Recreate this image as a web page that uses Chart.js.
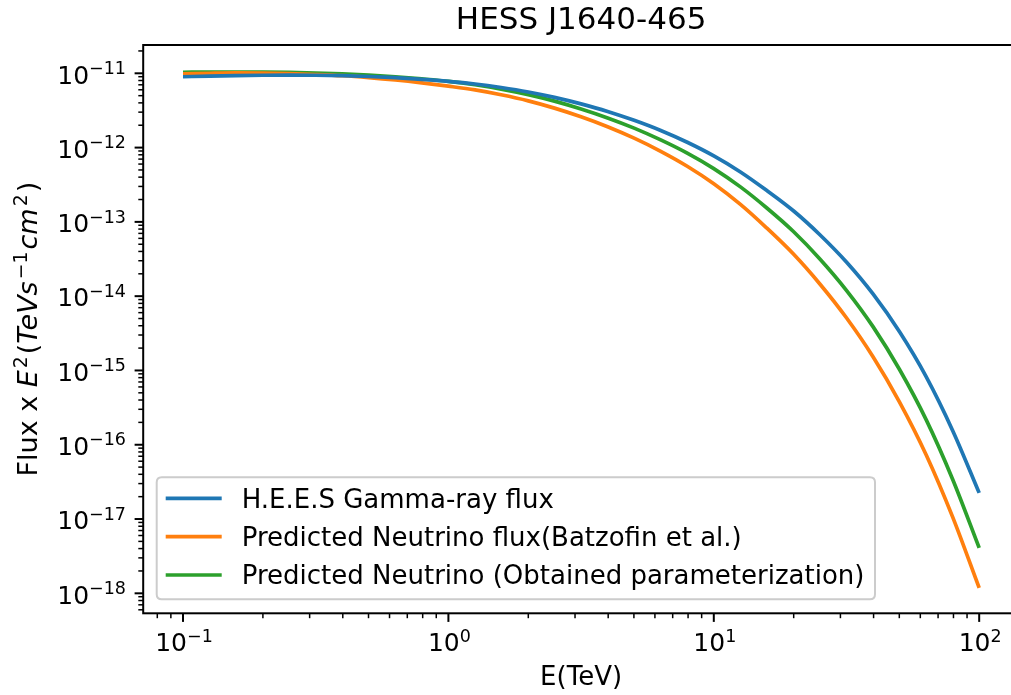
<!DOCTYPE html>
<html><head><meta charset="utf-8">
<script src="https://cdn.jsdelivr.net/npm/chart.js@4.4.1/dist/chart.umd.min.js"></script>
<style>html,body{margin:0;padding:0;overflow:hidden;background:#fff}#wrap{width:1025px;height:695px;position:relative}</style>
</head><body><div id="wrap"><canvas id="c"></canvas></div>
<script>
// ---- data ----
const energies = [0.1, 0.126, 0.158, 0.2, 0.251, 0.316, 0.398, 0.501, 0.631, 0.794, 1, 1.26, 1.58, 2, 2.51, 3.16, 3.98, 5.01, 6.31, 7.94, 10, 12.6, 15.8, 20, 25.1, 31.6, 39.8, 50.1, 63.1, 79.4, 100];
const gammaFlux = [8.99e-12, 9.18e-12, 9.33e-12, 9.42e-12, 9.46e-12, 9.42e-12, 9.29e-12, 9.06e-12, 8.73e-12, 8.30e-12, 7.80e-12, 7.18e-12, 6.44e-12, 5.61e-12, 4.75e-12, 3.88e-12, 3.07e-12, 2.33e-12, 1.70e-12, 1.18e-12, 7.73e-13, 4.70e-13, 2.66e-13, 1.40e-13, 6.71e-14, 2.88e-14, 1.07e-14, 3.31e-15, 8.26e-16, 1.56e-16, 2.25e-17];
const batzofinFlux = [9.86e-12, 1.002e-11, 1.012e-11, 1.005e-11, 9.91e-12, 9.64e-12, 9.29e-12, 8.77e-12, 8.15e-12, 7.45e-12, 6.71e-12, 5.97e-12, 5.14e-12, 4.26e-12, 3.40e-12, 2.60e-12, 1.91e-12, 1.34e-12, 8.91e-13, 5.61e-13, 3.26e-13, 1.72e-13, 8.32e-14, 3.66e-14, 1.46e-14, 5.12e-15, 1.53e-15, 3.76e-16, 7.35e-17, 1.07e-17, 1.18e-18];
const paramFlux = [1.033e-11, 1.040e-11, 1.042e-11, 1.038e-11, 1.028e-11, 1.009e-11, 9.82e-12, 9.44e-12, 8.97e-12, 8.41e-12, 7.80e-12, 7.01e-12, 6.12e-12, 5.16e-12, 4.22e-12, 3.31e-12, 2.51e-12, 1.83e-12, 1.27e-12, 8.43e-13, 5.22e-13, 2.96e-13, 1.55e-13, 7.36e-14, 3.17e-14, 1.20e-14, 3.89e-15, 1.03e-15, 2.18e-16, 3.44e-17, 4.10e-18];
const seriesLabels = ["H.E.E.S Gamma-ray flux", "Predicted Neutrino flux(Batzofin et al.)", "Predicted Neutrino (Obtained parameterization)"];
const seriesColors = ["#1f77b4", "#ff7f0e", "#2ca02c"];
const xMajorTicks = [0.1, 1, 10, 100];
const xTickExponents = ["\u22121", "0", "1", "2"];
const yMajorTicks = [1e-11, 1e-12, 1e-13, 1e-14, 1e-15, 1e-16, 1e-17, 1e-18];
const yTickExponents = ["\u221211", "\u221212", "\u221213", "\u221214", "\u221215", "\u221216", "\u221217", "\u221218"];
const titleText = "HESS J1640-465";
const xTitle = "E(TeV)";

const FONT = '"DejaVu Sans", sans-serif';
const TICK = 25, EXP = 17.5, LBL = 26, LEG = 26, TTL = 31;
const pts = arr => energies.map((e, i) => ({x: e, y: arr[i]}));

function drawPow(ctx, base, exp, x, baseY, align, bsize, esize, raise) {
  ctx.font = bsize + 'px ' + FONT; const bw = ctx.measureText(base).width;
  ctx.font = esize + 'px ' + FONT; const ew = ctx.measureText(exp).width;
  const w = bw + ew;
  const x0 = align === 'right' ? x - w : (align === 'center' ? x - w / 2 : x);
  ctx.textAlign = 'left'; ctx.textBaseline = 'alphabetic'; ctx.fillStyle = '#000';
  ctx.font = bsize + 'px ' + FONT; ctx.fillText(base, x0, baseY);
  ctx.font = esize + 'px ' + FONT; ctx.fillText(exp, x0 + bw, baseY - raise);
}

function minorValues(min, max) {
  const out = [];
  for (let n = Math.floor(Math.log10(min)); n <= Math.ceil(Math.log10(max)); n++) {
    for (let k = 2; k <= 9; k++) { const v = k * Math.pow(10, n); if (v >= min && v <= max) out.push(v); }
  }
  return out;
}

const decor = {
  id: 'decor',
  afterDraw(chart) {
    const ctx = chart.ctx, a = chart.chartArea, xs = chart.scales.x, ys = chart.scales.y;
    ctx.save();
    ctx.strokeStyle = '#000'; ctx.lineWidth = 2;
    ctx.strokeRect(a.left, a.top, a.right - a.left, a.bottom - a.top);
    const tick = (x1, y1, x2, y2, w) => { ctx.lineWidth = w; ctx.beginPath(); ctx.moveTo(x1, y1); ctx.lineTo(x2, y2); ctx.stroke(); };
    xMajorTicks.forEach(v => { const p = xs.getPixelForValue(v); tick(p, a.bottom, p, a.bottom + 8.6, 2); });
    minorValues(xs.min, xs.max).forEach(v => { const p = xs.getPixelForValue(v); tick(p, a.bottom, p, a.bottom + 4.9, 1.5); });
    yMajorTicks.forEach(v => { const p = ys.getPixelForValue(v); tick(a.left, p, a.left - 8.6, p, 2); });
    minorValues(ys.min, ys.max).forEach(v => { const p = ys.getPixelForValue(v); tick(a.left, p, a.left - 4.9, p, 1.5); });
    xMajorTicks.forEach((v, i) => { const p = xs.getPixelForValue(v); drawPow(ctx, '10', xTickExponents[i], p + 1, a.bottom + 38, 'center', TICK, EXP, 9.4); });
    yMajorTicks.forEach((v, i) => { const p = ys.getPixelForValue(v); drawPow(ctx, '10', yTickExponents[i], a.left - 17.2, p + 10.3, 'right', TICK, EXP, 9.6); });
    const cx = (a.left + a.right) / 2;
    ctx.fillStyle = '#000'; ctx.textAlign = 'center'; ctx.textBaseline = 'alphabetic';
    ctx.font = TTL + 'px ' + FONT; ctx.fillText(titleText, cx, 28.5);
    ctx.font = LBL + 'px ' + FONT; ctx.fillText(xTitle, cx, 685);
    // y title: text, style, size, raise, gap before, gap after
    const YL = 27, YS = 18.9;
    const segs = [
      ['Flux x ', '', YL, 0, 0, 0], ['E', 'italic ', YL, 0, 0, 0], ['2', '', YS, 10.4, 2, 2], ['(', '', YL, 0, 0, 0],
      ['TeVs', 'italic ', YL, 0, 0, 0], ['\u22121', '', YS, 10.4, 2, 2], ['cm', 'italic ', YL, 0, 0, 0], ['2', '', YS, 10.4, 2, 2], [')', '', YL, 0, 0, 0]
    ];
    let tw = 0; segs.forEach(s => { ctx.font = s[1] + s[2] + 'px ' + FONT; s.push(ctx.measureText(s[0]).width); tw += s[4] + s[5] + s[6]; });
    ctx.translate(37, (a.top + a.bottom) / 2); ctx.rotate(-Math.PI / 2);
    let sx = -tw / 2; ctx.textAlign = 'left';
    segs.forEach(s => { ctx.font = s[1] + s[2] + 'px ' + FONT; sx += s[4]; ctx.fillText(s[0], sx, -s[3]); sx += s[6] + s[5]; });
    ctx.restore();
    // legend
    ctx.save();
    const lx = 156.7, ly = 477.3, lw = 718.3, lh = 122, r = 5;
    ctx.beginPath();
    ctx.moveTo(lx + r, ly); ctx.lineTo(lx + lw - r, ly); ctx.quadraticCurveTo(lx + lw, ly, lx + lw, ly + r);
    ctx.lineTo(lx + lw, ly + lh - r); ctx.quadraticCurveTo(lx + lw, ly + lh, lx + lw - r, ly + lh);
    ctx.lineTo(lx + r, ly + lh); ctx.quadraticCurveTo(lx, ly + lh, lx, ly + lh - r);
    ctx.lineTo(lx, ly + r); ctx.quadraticCurveTo(lx, ly, lx + r, ly); ctx.closePath();
    ctx.fillStyle = 'rgba(255,255,255,0.8)'; ctx.fill();
    ctx.strokeStyle = '#cccccc'; ctx.lineWidth = 2; ctx.stroke();
    chart.data.datasets.forEach((ds, i) => {
      const ry = 498.3 + i * 38.35;
      ctx.strokeStyle = ds.borderColor; ctx.lineWidth = 3.7; ctx.lineCap = 'butt';
      ctx.beginPath(); ctx.moveTo(165.7, ry); ctx.lineTo(221.7, ry); ctx.stroke();
      ctx.fillStyle = '#000'; ctx.font = LEG + 'px ' + FONT; ctx.textAlign = 'left'; ctx.textBaseline = 'alphabetic';
      ctx.fillText(ds.label, 241.7, ry + 9.3);
    });
    ctx.restore();
  }
};

new Chart(document.getElementById('c'), {
  type: 'line',
  data: {
    datasets: [
      {label: seriesLabels[0], data: pts(gammaFlux), borderColor: seriesColors[0]},
      {label: seriesLabels[1], data: pts(batzofinFlux), borderColor: seriesColors[1]},
      {label: seriesLabels[2], data: pts(paramFlux), borderColor: seriesColors[2]}
    ].map(d => Object.assign(d, {borderWidth: 3.7, pointRadius: 0, fill: false, cubicInterpolationMode: 'monotone', borderCapStyle: 'butt'}))
  },
  options: {
    responsive: true, maintainAspectRatio: false, animation: false,
    devicePixelRatio: 1,
    layout: {padding: {left: 143.2, top: 45, right: 6, bottom: 81.7}},
    plugins: {legend: {display: false}, title: {display: false}, tooltip: {enabled: false}},
    scales: {
      x: {type: 'logarithmic', display: false, min: Math.pow(10, -1.15), max: Math.pow(10, 2.15)},
      y: {type: 'logarithmic', display: false, min: Math.pow(10, -18.269), max: Math.pow(10, -10.619)}
    }
  },
  plugins: [decor]
});
</script></body></html>
